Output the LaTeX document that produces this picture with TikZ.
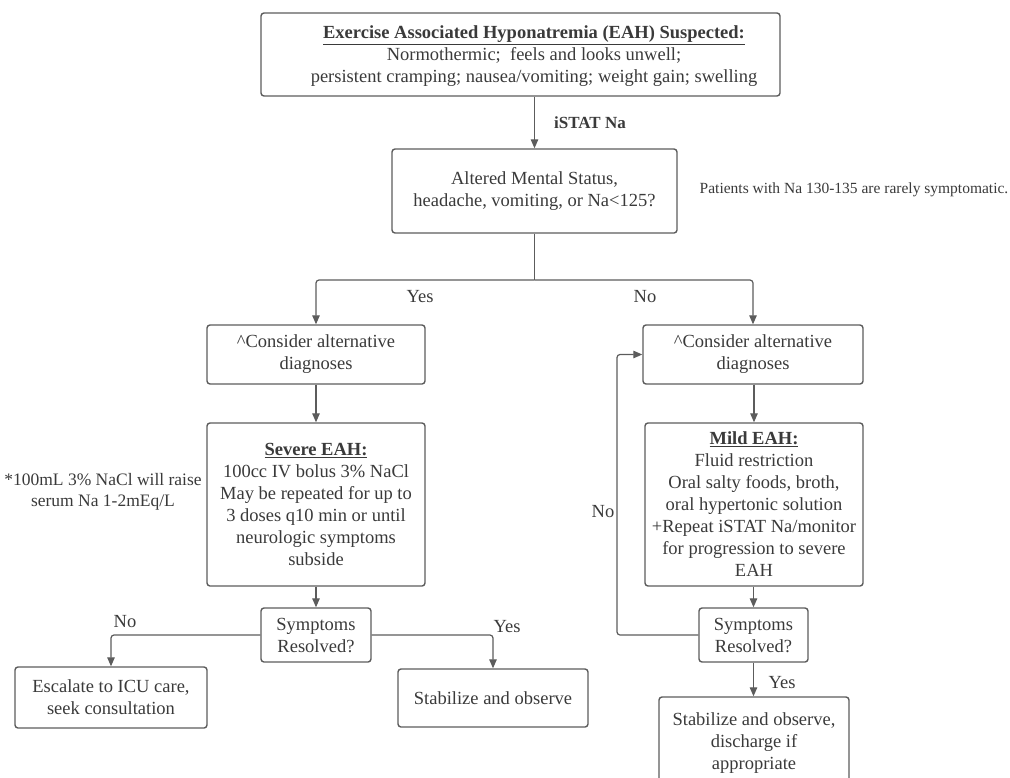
\documentclass[tikz,border=0pt]{standalone}
\usepackage{fontspec}
\setmainfont{Liberation Serif}
\usepackage{xcolor}
\usetikzlibrary{arrows.meta,positioning}
\definecolor{ink}{HTML}{3A3A3A}
\definecolor{edge}{HTML}{5C5C5C}

\begin{document}
\begin{tikzpicture}[
  x=1pt, y=-1pt,
  font=\fontsize{18.5}{22}\selectfont, text=ink,
  box/.style={draw=edge, line width=1.4pt, rounded corners=3pt, align=center, inner sep=2pt},
  note/.style={align=center, inner sep=1pt},
  lbl/.style={inner sep=1pt},
  flow/.style={-{Triangle[length=9pt,width=7.5pt]}, draw=edge, line width=1.2pt, rounded corners=3pt},
  link/.style={draw=edge, line width=1.2pt, rounded corners=3pt}
]
  \useasboundingbox (0,0) rectangle (1010,777);

  \node[box, minimum width=519pt, minimum height=83pt] (susp) at (520.5,54.5) {};
  \node[note] (susptext) at (534,56)
    {\underline{\textbf{Exercise Associated Hyponatremia (EAH) Suspected:}}\\
     Normothermic;\ \ feels and looks unwell;\\
     persistent cramping; nausea/vomiting; weight gain; swelling};
  \node[box, minimum width=285pt, minimum height=84pt] (ams) at (534.5,191)
    {Altered Mental Status,\\ headache, vomiting, or Na<125?};
  \node[note, font=\fontsize{15.5}{18}\selectfont] (rare) at (854,190)
    {Patients with Na 130-135 are rarely symptomatic.};
  \node[lbl, font=\fontsize{17}{22}\selectfont\bfseries] (istat) at (590,123) {iSTAT Na};

  \node[box, minimum width=218pt, minimum height=59pt] (consL) at (316,354.5)
    {\textasciicircum Consider alternative\\ diagnoses};
  \node[box, minimum width=220pt, minimum height=59pt] (consR) at (753,354.5)
    {\textasciicircum Consider alternative\\ diagnoses};

  \node[box, minimum width=218pt, minimum height=163pt] (severe) at (316,504.5)
    {\underline{\textbf{Severe EAH:}}\\ 100cc IV bolus 3\% NaCl\\ May be repeated for up to\\
     3 doses q10 min or until\\ neurologic symptoms\\ subside};
  \node[box, minimum width=218pt, minimum height=163pt] (mild) at (754,504.5)
    {\underline{\textbf{Mild EAH:}}\\ Fluid restriction\\ Oral salty foods, broth,\\
     oral hypertonic solution\\ +Repeat iSTAT Na/monitor\\ for progression to severe\\ EAH};
  \node[note, font=\fontsize{17.5}{21}\selectfont] (nacl) at (103,492)
    {*100mL 3\% NaCl will raise\\ serum Na 1-2mEq/L};

  \node[box, minimum width=110pt, minimum height=54pt] (symL) at (316,635) {Symptoms\\ Resolved?};
  \node[box, minimum width=109pt, minimum height=54pt] (symR) at (753.5,635) {Symptoms\\ Resolved?};

  \node[box, minimum width=192pt, minimum height=61pt] (esc) at (111,697.5)
    {Escalate to ICU care,\\ seek consultation};
  \node[box, minimum width=190pt, minimum height=58pt] (stabL) at (493,698) {Stabilize and observe};
  \node[box, minimum width=190pt, minimum height=92pt] (stabR) at (754,743)
    {Stabilize and observe,\\ discharge if\\ appropriate};

  \coordinate (split) at (534.5,280);
  \coordinate (loop) at (617,635);

  \draw[flow] (susp.south -| ams.north) -- (ams.north);
  \draw[link] (ams.south) -- (split);
  \draw[flow] (split) -| (consL.north);
  \draw[flow] (split) -| (consR.north);
  \node[lbl] at (420,297) {Yes};
  \node[lbl] at (645,297) {No};

  \draw[flow] (consL) -- (severe);
  \draw[flow] (consR.south -| mild.north) -- (mild.north);
  \draw[flow] (severe) -- (symL);
  \draw[flow] (mild.south -| symR.north) -- (symR.north);

  \draw[flow] (symL.west) -| (esc.north);
  \draw[flow] (symL.east) -| (stabL.north);
  \node[lbl] at (125,622) {No};
  \node[lbl] at (507,627) {Yes};

  \draw[flow] (symR.west) -- (loop) |- (consR.west);
  \node[lbl] at (603,512) {No};
  \draw[flow] (symR.south) -- (symR.south |- stabR.north);
  \node[lbl] at (782,683) {Yes};
\end{tikzpicture}
\end{document}
